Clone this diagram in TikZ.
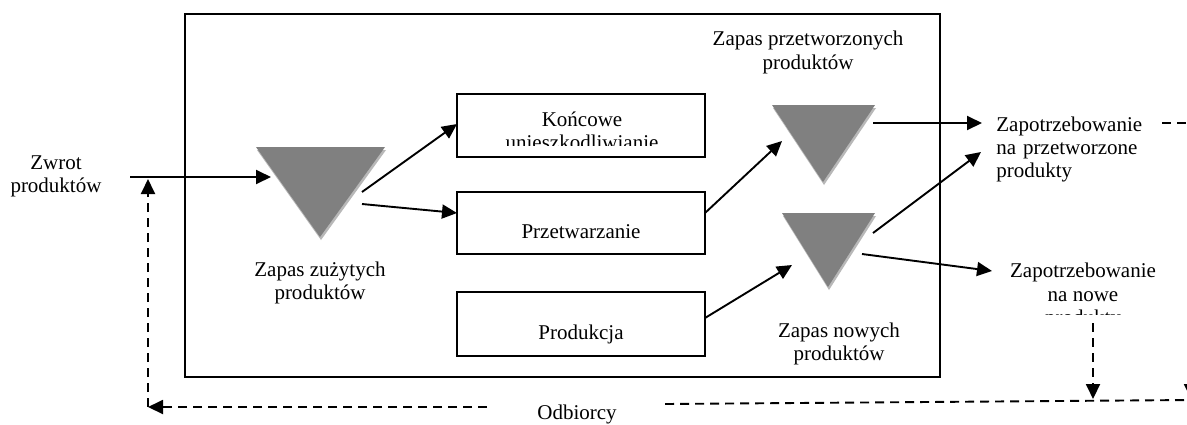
\documentclass[tikz,border=0pt]{standalone}
\usepackage{fontspec}
\setmainfont{Liberation Serif}
\usetikzlibrary{arrows.meta}
\definecolor{stockgray}{HTML}{808080}
\definecolor{shadegray}{HTML}{B8B8B8}
\begin{document}
\begin{tikzpicture}[x=0.5pt,y=-0.5pt,
  txt/.style={font=\fontsize{10.5}{11.6}\selectfont, inner sep=0pt, align=center},
  boxed/.style={draw, line width=1pt, inner sep=0pt},
  arr/.style={-{Triangle[length=7.5pt,width=7pt]}, line width=0.95pt},
  dashline/.style={line width=0.95pt, dash pattern=on 4.5pt off 3pt},
  darr/.style={dashline, -{Triangle[length=7.5pt,width=7pt]}},
]
\useasboundingbox (0,0) rectangle (1187,424);
\clip (0,0) rectangle (1187,424);
\fill[white] (0,0) rectangle (1187,424);

% outer frame
\node[boxed, minimum width=377.5pt, minimum height=181.5pt] (outer) at (562.5,195.5) {};

% process boxes
\node[boxed, minimum width=124pt, minimum height=31.5pt] (kon) at (581,125.5) {};
\node[boxed, minimum width=124pt, minimum height=31pt] (prz) at (581,223) {};
\node[boxed, minimum width=124pt, minimum height=32pt] (prod) at (581,324) {};

\begin{scope}
  \clip (457,94) rectangle (705,145.5);
  \node[txt] (konT) at (582,131) {Końcowe\\unieszkodliwianie};
\end{scope}
\node[txt] (przT) at (581,231.5) {Przetwarzanie};
\node[txt] (prodT) at (581,334) {Produkcja};

% stock triangles
\fill[shadegray] (257,150) -- (386,150) -- (321,240) -- cycle;
\fill[stockgray] (256,147) -- (385,147) -- (320,237) -- cycle;
\fill[shadegray] (773,108) -- (876,108) -- (824,185) -- cycle;
\fill[stockgray] (772,105) -- (875,105) -- (823,182) -- cycle;
\fill[shadegray] (783,216) -- (876,216) -- (829,290) -- cycle;
\fill[stockgray] (782,213) -- (875,213) -- (828,287) -- cycle;

% labels
\node[txt] (zwrot) at (56,176.5) {Zwrot\\produktów};
\node[txt] (zapU) at (320,283) {Zapas zużytych\\produktów};
\node[txt] (zapP) at (808,52.5) {Zapas przetworzonych\\produktów};
\node[txt] (zapN) at (839,344) {Zapas nowych\\produktów};
\node[txt, anchor=west, align=left, text width=73pt] (demP) at (996,149.5)
  {Zapotrzebowanie\\\makebox[\linewidth][s]{na przetworzone}\\produkty};
\begin{scope}
  \clip (990,250) rectangle (1187,314.5);
  \node[txt] (demN) at (1083,296) {Zapotrzebowanie\\na nowe\\produkty};
\end{scope}
\node[txt] (odb) at (577,414) {Odbiorcy};

% connector end points
\coordinate (zwS) at (130,177);
\coordinate (t1in) at (271,177);
\coordinate (t1o1) at (362,192);
\coordinate (t1o2) at (362,204);
\coordinate (konIn) at (457,124);
\coordinate (przIn) at (457,213);
\coordinate (przOut) at (705,213);
\coordinate (t2in) at (782,141);
\coordinate (t2o) at (873,123);
\coordinate (demPa) at (982,123);
\coordinate (t3o1) at (873,233);
\coordinate (demPb) at (981,152);
\coordinate (prodOut) at (705,318);
\coordinate (t3in) at (792,265);
\coordinate (t3o2) at (862,254);
\coordinate (demNa) at (992,271);

\draw[arr] (zwS) -- (t1in);
\draw[arr] (t1o1) -- (konIn);
\draw[arr] (t1o2) -- (przIn);
\draw[arr] (przOut) -- (t2in);
\draw[arr] (t2o) -- (demPa);
\draw[arr] (t3o1) -- (demPb);
\draw[arr] (prodOut) -- (t3in);
\draw[arr] (t3o2) -- (demNa);

% dashed customer loop
\coordinate (dL1) at (487,407);
\coordinate (dCorner) at (148,407);
\coordinate (dUp) at (148,179);
\coordinate (dR1) at (665,404);
\coordinate (dR2) at (1190,400);
\coordinate (dN1) at (1093,323);
\coordinate (dN2) at (1093,399);
\coordinate (dP1) at (1162,123);
\coordinate (dP2) at (1191,123);
\coordinate (dP3) at (1191,399);
\draw[darr] (dL1) -- (dCorner);
\draw[darr] (dCorner) -- (dUp);
\draw[dashline] (dR1) -- (dR2);
\draw[darr] (dN1) -- (dN2);
\draw[darr] (dP1) -- (dP2) -- (dP3);
\end{tikzpicture}
\end{document}
